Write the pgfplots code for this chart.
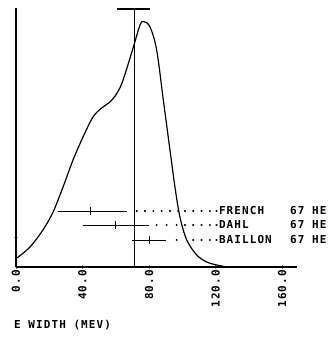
\documentclass[border=0pt]{standalone}
\usepackage{pgfplots}
\pgfplotsset{compat=1.18}
\usepackage{fontspec}
\newfontfamily\plotfont[LetterSpace=10]{DejaVu Sans Mono}
\newcommand\pf{\fontsize{11}{11}\plotfont\bfseries}

\begin{document}
\begin{tikzpicture}
\begin{axis}[
  at={(0,0)}, anchor=origin,
  scale only axis,
  width=281bp, height=259bp,
  xmin=0, xmax=169, ymin=0, ymax=259,
  axis x line=bottom, axis y line=left,
  axis line style={-, line width=1.2pt},
  xtick={0,40,80,120,160},
  xticklabels={0.0,40.0,80.0,120.0,160.0},
  xtick align=center,
  major tick length=4bp,
  xticklabel style={rotate=90, anchor=east, inner sep=1pt, font=\pf},
  ytick={30}, yticklabels={},
  ytick style={line width=1pt},
  clip=false,
]
% spectrum
\addplot[smooth, line width=1.2pt, tension=0.55] coordinates {
  (0.8,9.3) (8.4,20) (16.2,37) (22.3,55) (28.3,80) (34.3,107) (40.3,130)
  (46.3,150) (51.5,159) (56.5,165) (60.8,174) (64.4,187) (70.6,220)
  (74.6,242) (76.8,245.5) (80.6,240) (84.6,217) (88.6,167) (92.6,117)
  (95.6,80) (98.6,50) (102.7,27) (108.7,12) (114.7,5) (120.7,2) (126,0.3)
};
% mean value with its band at the top
\addplot[line width=0.9pt] coordinates {(71,0) (71,259)};
\addplot[line width=1.1pt] coordinates {(61,258) (80.5,258)};

% measurements
\addplot[line width=0.9pt] coordinates {(25,56) (66.5,56)};
\addplot[only marks, mark=|, mark size=4bp, mark options={line width=0.9pt}] coordinates {(45,56)};
\addplot[line width=0.9pt] coordinates {(40,42) (80,42)};
\addplot[only marks, mark=|, mark size=4bp, mark options={line width=0.9pt}] coordinates {(60,42)};
\addplot[line width=0.9pt] coordinates {(70,27) (90,27)};
\addplot[only marks, mark=|, mark size=4bp, mark options={line width=0.9pt}] coordinates {(80.5,27)};

% leader dots
\addplot[only marks, mark=*, mark size=0.8bp] coordinates {
  (72.6,56) (77.6,56) (82.6,56) (87.6,56) (92.6,56) (97.6,56) (101.6,56)
  (106.6,56) (111.6,56) (116.6,56) (120.6,56)
  (84.6,42) (90.6,42) (96.6,42) (101.6,42) (106.6,42) (111.6,42) (116.6,42) (120.6,42)
  (96.6,27) (106.6,27) (111.6,27) (116.6,27) (120.6,27)
};

\node[anchor=west, inner sep=0pt, font=\pf] at (axis cs:122,56) {FRENCH};
\node[anchor=west, inner sep=0pt, font=\pf] at (axis cs:122,42) {DAHL};
\node[anchor=west, inner sep=0pt, font=\pf] at (axis cs:122,27) {BAILLON};
\node[anchor=west, inner sep=0pt, font=\pf] at (axis cs:164.8,56) {67 HE};
\node[anchor=west, inner sep=0pt, font=\pf] at (axis cs:164.8,42) {67 HE};
\node[anchor=west, inner sep=0pt, font=\pf] at (axis cs:164.8,27) {67 HE};
\end{axis}
\node[anchor=west, inner sep=0pt, font=\pf] at (-2bp,-58bp) {E WIDTH (MEV)};
\pgfresetboundingbox
\useasboundingbox (-16bp,-72bp) rectangle (312bp,267bp);
\end{tikzpicture}
\end{document}
